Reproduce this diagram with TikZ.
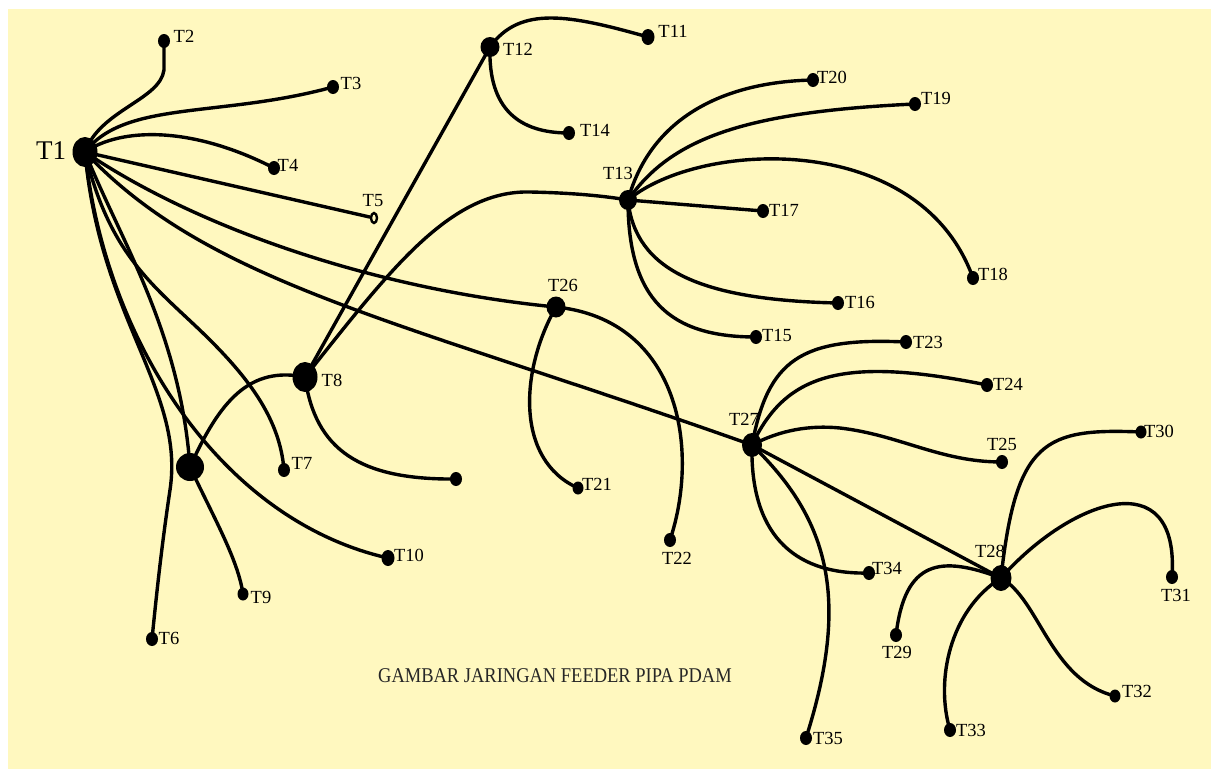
\documentclass[tikz,border=0pt]{standalone}
\usepackage{fontspec}
\usepackage{graphicx}
\setmainfont{Liberation Serif}
\usetikzlibrary{shapes.geometric}
\definecolor{paper}{HTML}{FFF8BF}
\pgfdeclarelayer{pipes}
\pgfsetlayers{pipes,main}
\tikzset{
  dot/.style 2 args={ellipse,fill=black,inner sep=0pt,minimum width=#1,minimum height=#2},
  sdot/.style={dot={12pt}{14pt}},
  pipe/.style={line width=3.4pt,line join=round,line cap=round},
  lab/.style={font=\fontsize{18.5}{20}\selectfont,inner sep=0pt},
  biglab/.style={font=\fontsize{27}{30}\selectfont,inner sep=0pt},
}
\begin{document}
\begin{tikzpicture}[x=1pt,y=-1pt]
\useasboundingbox (0,0) rectangle (1211,769);

% junctions
\node[dot={25pt}{30pt}] (T1) at (85,152) {};
\node[dot={25pt}{30pt}] (T8) at (305,377) {};
\node[dot={28pt}{28pt}] (B1) at (190,467) {};
\node[dot={19pt}{20pt}] (T12) at (490,47) {};
\node[dot={18pt}{20pt}] (T13) at (628,200) {};
\node[dot={19pt}{21pt}] (T26) at (556,307) {};
\node[dot={20pt}{24pt}] (T27) at (752,445) {};
\node[dot={21pt}{26pt}] (T28) at (1001,578) {};

% end points
\node[sdot] (T2) at (164,41) {};
\node[sdot] (T3) at (333,87) {};
\node[sdot] (T4) at (274,168) {};
\node[ellipse,draw=black,fill=paper,line width=2.4pt,inner sep=0pt,minimum width=6pt,minimum height=10pt] (T5) at (374,218) {};
\node[sdot] (T6) at (152,639) {};
\node[sdot] (T7) at (284,470) {};
\node[dot={11pt}{13pt}] (T9) at (243,594) {};
\node[dot={13pt}{16pt}] (T10) at (388,558) {};
\node[dot={13pt}{16pt}] (T11) at (648,37) {};
\node[sdot] (T14) at (569,133) {};
\node[sdot] (T15) at (756,337) {};
\node[sdot] (T16) at (838,303) {};
\node[sdot] (T17) at (763,211) {};
\node[sdot] (T18) at (973,278) {};
\node[sdot] (T19) at (915,104) {};
\node[sdot] (T20) at (813,80) {};
\node[dot={11pt}{13pt}] (T21) at (578,488) {};
\node[sdot] (T22) at (670,540) {};
\node[sdot] (T23) at (906,342) {};
\node[sdot] (T24) at (987,385) {};
\node[sdot] (T25) at (1002,462) {};
\node[sdot] (T29) at (896,635) {};
\node[dot={11pt}{13pt}] (T30) at (1141,432) {};
\node[sdot] (T31) at (1172,577) {};
\node[dot={11pt}{13pt}] (T32) at (1115,696) {};
\node[sdot] (T33) at (950,730) {};
\node[sdot] (T34) at (869,573) {};
\node[sdot] (T35) at (806,738) {};
\node[sdot] (P1) at (456,479) {};

% labels
\node[biglab] (L1) at (51,151) {T1};
\node[lab] (L2) at (184,36) {T2};
\node[lab] (L3) at (351,83) {T3};
\node[lab] (L4) at (288,165) {T4};
\node[lab] (L5) at (373,201) {T5};
\node[lab] (L6) at (169,638) {T6};
\node[lab] (L7) at (302,463) {T7};
\node[lab] (L8) at (332,380) {T8};
\node[lab] (L9) at (261,597) {T9};
\node[lab] (L10) at (409,555) {T10};
\node[lab] (L11) at (673,31) {T11};
\node[lab] (L12) at (518,49) {T12};
\node[lab] (L13) at (618,173) {T13};
\node[lab] (L14) at (595,130) {T14};
\node[lab] (L15) at (777,335) {T15};
\node[lab] (L16) at (860,302) {T16};
\node[lab] (L17) at (784,210) {T17};
\node[lab] (L18) at (993,274) {T18};
\node[lab] (L19) at (936,98) {T19};
\node[lab] (L20) at (832,77) {T20};
\node[lab] (L21) at (597,484) {T21};
\node[lab] (L22) at (677,558) {T22};
\node[lab] (L23) at (928,342) {T23};
\node[lab] (L24) at (1008,384) {T24};
\node[lab] (L25) at (1002,444) {T25};
\node[lab] (L26) at (563,285) {T26};
\node[lab] (L27) at (744,419) {T27};
\node[lab] (L28) at (990,551) {T28};
\node[lab] (L29) at (897,652) {T29};
\node[lab] (L30) at (1159,431) {T30};
\node[lab] (L31) at (1176,595) {T31};
\node[lab] (L32) at (1137,691) {T32};
\node[lab] (L33) at (971,730) {T33};
\node[lab] (L34) at (887,568) {T34};
\node[lab] (L35) at (828,738) {T35};

\node[font=\fontsize{21}{24}\selectfont,inner sep=0pt,text=black!85] (title) at (555,676)
  {\scalebox{0.88}[1]{GAMBAR JARINGAN FEEDER PIPA PDAM}};

\begin{pgfonlayer}{pipes}
\fill[paper] (8,9) rectangle (1211,769);

% feeders leaving T1
\draw[pipe] (T1.center) .. controls (100,110) and (160,100) .. (164,70) -- (T2.center);
\draw[pipe] (T1.center) .. controls (125,100) and (220,118) .. (T3.center);
\draw[pipe] (T1.center) .. controls (120,128) and (190,125) .. (T4.center);
\draw[pipe] (T1.center) -- (T5);
\draw[pipe] (T1.center) .. controls (200,230) and (380,290) .. (T26.center);
\draw[pipe] (T1.center) .. controls (210,285) and (400,320) .. (T27.center);
\draw[pipe] (T1.center) .. controls (110,260) and (160,290) .. (210,340)
                       .. controls (250,380) and (280,420) .. (T7.center);
\draw[pipe] (T1.center) .. controls (105,340) and (220,520) .. (T10.center);
\draw[pipe] (T1.center) .. controls (100,320) and (185,390) .. (170,490)
                       .. controls (161,550) and (156,600) .. (T6.center);
\draw[pipe] (T1.center) .. controls (120,240) and (180,330) .. (B1.center);

% branches at T8 and the unnamed junction
\draw[pipe] (T8.center) -- (T12.center);
\draw[pipe] (T8.center) .. controls (390,270) and (450,190) .. (530,192)
                       .. controls (580,193) and (610,197) .. (T13.center);
\draw[pipe] (T8.center) .. controls (250,366) and (220,400) .. (B1.center);
\draw[pipe] (T8.center) .. controls (315,450) and (360,480) .. (P1.center);
\draw[pipe] (B1.center) .. controls (215,520) and (238,560) .. (T9.center);

% T12
\draw[pipe] (T12.center) .. controls (520,5) and (570,15) .. (T11.center);
\draw[pipe] (T12.center) .. controls (488,110) and (520,133) .. (T14.center);

% T13
\draw[pipe] (T13.center) .. controls (650,120) and (720,82) .. (T20.center);
\draw[pipe] (T13.center) .. controls (670,140) and (740,112) .. (T19.center);
\draw[pipe] (T13.center) .. controls (700,140) and (920,130) .. (T18.center);
\draw[pipe] (T13.center) -- (T17.center);
\draw[pipe] (T13.center) .. controls (635,270) and (700,300) .. (T16.center);
\draw[pipe] (T13.center) .. controls (628,300) and (670,337) .. (T15.center);

% T26
\draw[pipe] (T26.center) .. controls (520,370) and (515,460) .. (T21.center);
\draw[pipe] (T26.center) .. controls (680,320) and (700,450) .. (T22.center);

% T27
\draw[pipe] (T27.center) .. controls (768,360) and (800,337) .. (T23.center);
\draw[pipe] (T27.center) .. controls (785,375) and (840,355) .. (T24.center);
\draw[pipe] (T27.center) .. controls (780,430) and (810,425) .. (840,428)
                        .. controls (900,435) and (940,462) .. (T25.center);
\draw[pipe] (T27.center) -- (T28.center);
\draw[pipe] (T27.center) .. controls (750,530) and (790,575) .. (T34.center);
\draw[pipe] (T27.center) .. controls (830,520) and (850,600) .. (T35.center);

% T28
\draw[pipe] (T28.center) .. controls (940,555) and (905,560) .. (T29.center);
\draw[pipe] (T28.center) .. controls (1016,440) and (1045,428) .. (T30.center);
\draw[pipe] (T28.center) .. controls (1070,500) and (1180,460) .. (T31.center);
\draw[pipe] (T28.center) .. controls (1040,600) and (1050,680) .. (T32.center);
\draw[pipe] (T28.center) .. controls (950,610) and (935,680) .. (T33.center);
\end{pgfonlayer}
\end{tikzpicture}
\end{document}
